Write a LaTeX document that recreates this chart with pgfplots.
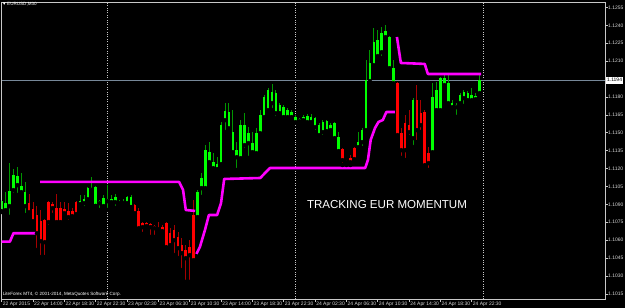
\documentclass[border=0pt]{standalone}
\usepackage{pgfplots}
\pgfplotsset{compat=1.18}
\usepackage{pgfplotstable}
\usepackage{fontspec}
\setmainfont{Liberation Sans}
\definecolor{bull}{RGB}{0,255,0}
\definecolor{bullwick}{RGB}{0,150,0}
\definecolor{bear}{RGB}{255,0,0}
\definecolor{bearwick}{RGB}{165,0,0}
\definecolor{mag}{RGB}{255,0,255}
\definecolor{framec}{RGB}{200,200,200}
\definecolor{ticktext}{RGB}{215,215,215}
\definecolor{slate}{RGB}{119,136,153}

% bullish-coloured candles: i open high low close
\pgfplotstableread{
i o h l c
0 1.10845 1.10937 1.10836 1.10929
1 1.10853 1.11004 1.10828 1.10912
2 1.10887 1.11247 1.10795 1.11012
3 1.11021 1.11197 1.10979 1.11147
4 1.11063 1.11214 1.10979 1.11138
5 1.11004 1.11163 1.10996 1.11054
6 1.10887 1.11088 1.10811 1.11004
20 1.10904 1.10979 1.10878 1.10929
21 1.10912 1.10979 1.10870 1.10945
22 1.10945 1.11046 1.10920 1.11038
23 1.11021 1.11130 1.11021 1.11038
24 1.10887 1.11054 1.10887 1.11046
25 1.10912 1.10937 1.10853 1.10929
26 1.10887 1.10979 1.10878 1.10954
27 1.10929 1.11063 1.10853 1.10945
28 1.10920 1.10979 1.10895 1.10945
29 1.10920 1.10987 1.10870 1.10962
30 1.10912 1.10937 1.10904 1.10920
31 1.10912 1.10945 1.10895 1.10920
32 1.10912 1.10971 1.10904 1.10962
33 1.10878 1.10979 1.10878 1.10962
50 1.10795 1.11021 1.10786 1.11004
51 1.11038 1.11163 1.10962 1.11121
52 1.11038 1.11398 1.11004 1.11356
53 1.11255 1.11423 1.11247 1.11339
54 1.11205 1.11331 1.11172 1.11255
55 1.11197 1.11297 1.11172 1.11239
56 1.11239 1.11591 1.11222 1.11566
57 1.11607 1.11750 1.11507 1.11683
58 1.11540 1.11750 1.11524 1.11674
59 1.11339 1.11691 1.11331 1.11507
60 1.11297 1.11423 1.11188 1.11356
61 1.11289 1.11607 1.11272 1.11566
62 1.11398 1.11666 1.11356 1.11566
63 1.11415 1.11549 1.11289 1.11498
64 1.11339 1.11507 1.11331 1.11415
65 1.11331 1.11540 1.11297 1.11498
66 1.11498 1.11691 1.11482 1.11649
67 1.11633 1.11817 1.11624 1.11800
68 1.11691 1.11876 1.11666 1.11859
69 1.11750 1.11909 1.11691 1.11842
70 1.11666 1.11859 1.11624 1.11834
71 1.11666 1.11750 1.11641 1.11733
72 1.11633 1.11733 1.11607 1.11716
73 1.11633 1.11708 1.11616 1.11691
74 1.11633 1.11691 1.11624 1.11674
75 1.11591 1.11649 1.11582 1.11633
76 1.11599 1.11624 1.11582 1.11616
77 1.11607 1.11649 1.11599 1.11633
78 1.11591 1.11658 1.11582 1.11641
79 1.11591 1.11658 1.11566 1.11633
80 1.11549 1.11633 1.11507 1.11624
81 1.11482 1.11582 1.11457 1.11566
82 1.11507 1.11607 1.11465 1.11591
83 1.11515 1.11607 1.11482 1.11599
84 1.11524 1.11582 1.11507 1.11566
85 1.11457 1.11591 1.11448 1.11582
86 1.11348 1.11507 1.11339 1.11465
91 1.11381 1.11507 1.11373 1.11423
92 1.11423 1.11540 1.11373 1.11524
93 1.11524 1.12110 1.11507 1.11943
94 1.11934 1.12194 1.11917 1.12085
95 1.12068 1.12378 1.12052 1.12261
96 1.12144 1.12362 1.12127 1.12278
97 1.12177 1.12387 1.12127 1.12337
98 1.12303 1.12404 1.12278 1.12353
99 1.12043 1.12311 1.12026 1.12303
100 1.11917 1.12110 1.11909 1.12043
105 1.11457 1.11792 1.11381 1.11775
110 1.11339 1.11917 1.11331 1.11800
111 1.11691 1.11926 1.11674 1.11859
112 1.11691 1.11968 1.11674 1.11959
113 1.11901 1.11985 1.11884 1.11959
114 1.11750 1.11985 1.11733 1.11917
115 1.11716 1.11775 1.11708 1.11750
116 1.11716 1.11750 1.11633 1.11733
117 1.11750 1.11834 1.11733 1.11817
118 1.11792 1.11859 1.11725 1.11842
119 1.11775 1.11850 1.11750 1.11834
120 1.11775 1.11876 1.11750 1.11817
121 1.11783 1.11834 1.11750 1.11809
122 1.11834 1.11985 1.11817 1.11943
}\upbars

% bearish-coloured candles
\pgfplotstableread{
i o h l c
7 1.10912 1.10987 1.10811 1.10836
8 1.10862 1.10920 1.10744 1.10761
9 1.10811 1.10887 1.10518 1.10660
10 1.10761 1.10853 1.10459 1.10593
11 1.10769 1.10778 1.10459 1.10585
12 1.10920 1.10929 1.10711 1.10753
13 1.10904 1.10920 1.10811 1.10870
14 1.10870 1.10987 1.10719 1.10753
15 1.10870 1.10920 1.10744 1.10753
16 1.10862 1.10920 1.10795 1.10828
17 1.10845 1.10912 1.10753 1.10795
18 1.10845 1.10870 1.10769 1.10803
19 1.10920 1.10929 1.10795 1.10820
34 1.10895 1.10904 1.10820 1.10828
35 1.10845 1.10870 1.10686 1.10702
36 1.10744 1.10753 1.10652 1.10711
37 1.10744 1.10753 1.10702 1.10719
38 1.10736 1.10744 1.10627 1.10711
39 1.10719 1.10728 1.10627 1.10702
40 1.10702 1.10753 1.10669 1.10694
41 1.10711 1.10728 1.10669 1.10677
42 1.10744 1.10753 1.10535 1.10543
43 1.10660 1.10702 1.10535 1.10560
44 1.10686 1.10728 1.10476 1.10602
45 1.10627 1.10669 1.10451 1.10535
46 1.10560 1.10619 1.10350 1.10493
47 1.10518 1.10560 1.10250 1.10451
48 1.10543 1.10602 1.10250 1.10476
49 1.10811 1.10937 1.10417 1.10434
87 1.11364 1.11373 1.11230 1.11272
88 1.11264 1.11272 1.11230 1.11255
89 1.11289 1.11314 1.11230 1.11255
90 1.11373 1.11381 1.11255 1.11281
101 1.11917 1.11926 1.11457 1.11482
102 1.11498 1.11540 1.11289 1.11356
103 1.11582 1.11649 1.11272 1.11356
104 1.11566 1.11691 1.11465 1.11507
106 1.11775 1.11901 1.11423 1.11524
107 1.11666 1.11775 1.11507 1.11566
108 1.11674 1.11691 1.11214 1.11230
109 1.11331 1.11381 1.11188 1.11247
}\downbars

\begin{document}
\begin{tikzpicture}
\fill[black] (0,0) rectangle (625bp,308bp);
\useasboundingbox (0,0) rectangle (625bp,308bp);
\begin{axis}[
  at={(1.5bp,9bp)}, anchor=south west,
  scale only axis, width=603.5bp, height=297bp,
  xmin=-0.05, xmax=154.02, ymin=1.10107, ymax=1.12596,
  axis line style={draw=framec, line width=0.8bp},
  tick align=outside, major tick length=2.5bp,
  tick style={draw=framec, line width=0.6bp},
  xtick pos=bottom, ytick pos=right, yticklabel pos=right,
  xtick={0,8,16,24,32,40,48,56,64,72,80,88,96,104,112,120},
  xticklabels={22 Apr 2015,22 Apr 14:00,22 Apr 18:30,22 Apr 22:30,23 Apr 02:30,23 Apr 06:30,23 Apr 10:30,23 Apr 14:00,23 Apr 18:30,23 Apr 22:30,24 Apr 02:30,24 Apr 06:30,24 Apr 10:30,24 Apr 14:30,24 Apr 18:30,24 Apr 22:30},
  ytick={1.1015,1.1030,1.1045,1.1060,1.1075,1.1090,1.1105,1.1120,1.1135,1.1150,1.1165,1.1180,1.1210,1.1225,1.1240,1.1255},
  yticklabels={1.1015,1.1030,1.1045,1.1060,1.1075,1.1090,1.1105,1.1120,1.1135,1.1150,1.1165,1.1180,1.1210,1.1225,1.1240,1.1255},
  xticklabel style={font=\fontsize{5}{6}\selectfont, text=ticktext, anchor=north west, inner sep=0.5bp, xshift=0.5bp},
  yticklabel style={font=\fontsize{5}{6}\selectfont, text=ticktext, anchor=west, inner sep=0.5bp},
  extra x ticks={27,75,123},
  extra x tick labels={},
  extra x tick style={major tick length=0pt, grid=major,
    major grid style={draw=framec, line width=0.7bp, dash pattern=on 1bp off 1.4bp}},
  clip=true,
]
% current price line
\addplot[slate, line width=0.8bp, forget plot] coordinates {(-0.05,1.1194) (154.02,1.1194)};
% wicks: from low up to high
\addplot[only marks, mark=none, forget plot,
  error bars/.cd, y dir=plus, y explicit, error mark=none,
  error bar style={draw=bullwick, line width=0.9bp}]
  table[x=i, y=l, y error plus expr={\thisrow{h}-\thisrow{l}}] {\upbars};
\addplot[only marks, mark=none, forget plot,
  error bars/.cd, y dir=plus, y explicit, error mark=none,
  error bar style={draw=bearwick, line width=0.9bp}]
  table[x=i, y=l, y error plus expr={\thisrow{h}-\thisrow{l}}] {\downbars};
% bodies: from the lower of open/close up to the higher
\addplot[only marks, mark=none, forget plot,
  error bars/.cd, y dir=plus, y explicit, error mark=none,
  error bar style={draw=bull, line width=2.6bp}]
  table[x=i, y expr={\thisrow{o}-0.00002}, y error plus expr={\thisrow{c}-\thisrow{o}+0.00004}] {\upbars};
\addplot[only marks, mark=none, forget plot,
  error bars/.cd, y dir=plus, y explicit, error mark=none,
  error bar style={draw=bear, line width=2.6bp}]
  table[x=i, y expr={\thisrow{c}-0.00002}, y error plus expr={\thisrow{o}-\thisrow{c}+0.00004}] {\downbars};
% tracking line segments
\addplot[mag, line width=2.6bp, line join=round] coordinates {
 (0,1.10588) (2.1,1.10588) (3,1.10658) (9.2,1.10658)};
\addplot[mag, line width=2.6bp, line join=round] coordinates {
 (9.8,1.11088) (45.3,1.11088) (46.3,1.11021) (47,1.10853) (49.4,1.10845)};
\addplot[mag, line width=2.6bp, line join=round] coordinates {
 (49.7,1.10485) (50.6,1.10543) (51.9,1.10686) (52.9,1.10811) (55,1.10811) (56,1.10912) (56.8,1.11113) (66,1.11121) (67,1.11155) (68.5,1.11205) (92.8,1.11205) (93.5,1.11272) (94.2,1.11440) (95.3,1.11540) (96.2,1.11591) (97.3,1.11607) (98.2,1.11674) (100.4,1.11674)};
\addplot[mag, line width=2.6bp, line join=round] coordinates {
 (100.9,1.12303) (101.9,1.12085) (108,1.12077) (108.8,1.11993) (122.4,1.11993)};
\node[anchor=west, inner sep=0, text=white, font=\fontsize{11.6}{13}\selectfont] at (axis cs:77.9,1.10895) {TRACKING EUR MOMENTUM};
\coordinate (pricebox) at (axis cs:154.02,1.1194);
\end{axis}
\node[anchor=west, fill=white, text=black, inner sep=0pt, minimum width=17.6bp, minimum height=6.6bp, font=\fontsize{5}{6}\selectfont] at ([xshift=0.6bp]pricebox) {1.1194};
\fill[white] (2.8bp,305.6bp) -- (5.6bp,305.6bp) -- (4.2bp,303.2bp) -- cycle;
\node[anchor=west, inner sep=0pt, text=white, font=\fontsize{4.6}{5.5}\selectfont] at (7bp,303.8bp) {EURUSD,M30};
\node[anchor=west, inner sep=0pt, text=white, font=\fontsize{4.6}{5.5}\selectfont] at (2.7bp,13.8bp) {LiteForex MT4, © 2001-2014, MetaQuotes Software Corp.};
\end{tikzpicture}
\end{document}
